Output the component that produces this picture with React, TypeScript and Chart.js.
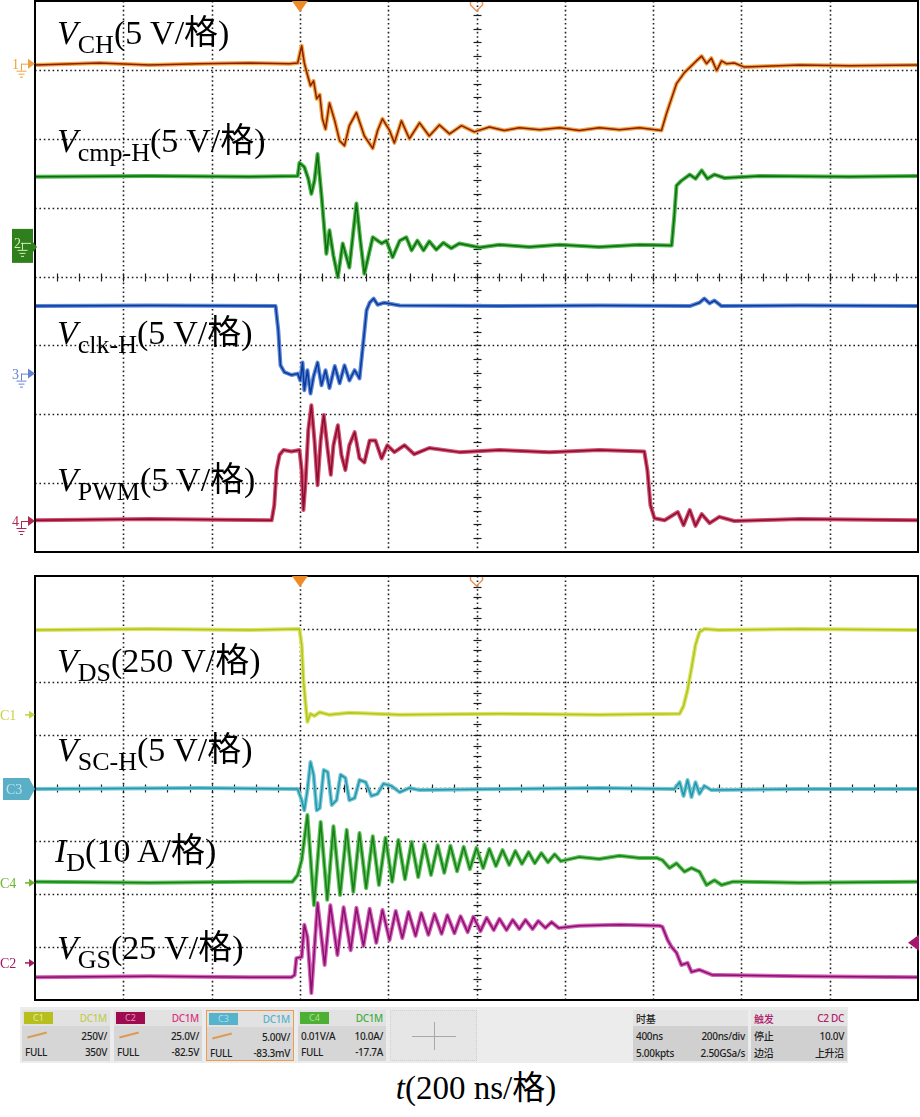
import React, { useEffect, useRef } from "react";
import { Chart, registerables } from "chart.js";

Chart.register(...registerables);

// ---------------- axes ----------------
const T_MIN = 0;
const T_MAX = 2000; // ns, 200 ns/div
const NS_PER_DIV = 200;
const DIVS_X = 10;
const DIVS_Y = 8;
const TRIGGER_T = 600;
const DELAY_T = 1000;

// ---------------- top panel traces (values in divisions, 0 = bottom) ----------------
const vchT = [0,146,259,373,486,576,595,604,610,617,624,631,638,645,651,658,667,679,690,701,712,728,746,765,776,787,803,814,830,848,871,893,916,939,966,995,1029,1063,1097,1143,1188,1233,1278,1324,1369,1419,1430,1442,1453,1471,1487,1498,1510,1521,1532,1544,1555,1566,1584,1607,1732,1845,2000];
const vchV = [7.07,7.10,7.07,7.09,7.10,7.09,7.10,7.35,7.10,6.93,6.77,6.84,6.58,6.64,6.29,6.14,6.52,6.26,5.97,5.90,6.19,6.38,6.04,5.86,6.12,6.29,6.12,5.94,6.26,6.00,6.23,6.04,6.20,6.07,6.19,6.10,6.17,6.12,6.16,6.13,6.16,6.12,6.16,6.13,6.16,6.12,6.36,6.59,6.80,6.96,7.06,7.13,7.20,7.09,7.17,6.99,7.13,7.09,7.10,7.04,7.07,7.06,7.07];

const cmpT = [0,259,486,595,599,610,619,626,633,640,649,660,667,676,686,697,712,728,737,746,765,785,796,810,826,841,853,866,880,893,909,925,943,961,1007,1052,1120,1188,1278,1369,1442,1448,1453,1464,1483,1496,1510,1523,1539,1562,1641,1845,2000];
const cmpV = [5.45,5.46,5.45,5.46,5.65,5.59,5.42,5.20,5.39,5.78,5.17,4.33,4.67,4.30,3.99,4.48,4.13,5.06,4.52,4.04,4.57,4.48,4.52,4.28,4.52,4.57,4.38,4.52,4.38,4.51,4.39,4.49,4.41,4.48,4.42,4.46,4.43,4.46,4.43,4.46,4.45,4.88,5.32,5.39,5.48,5.42,5.54,5.42,5.48,5.43,5.46,5.45,5.46];

const clkT = [0,259,545,551,556,565,581,595,601,606,610,617,624,631,640,649,658,667,679,690,701,712,724,735,744,751,758,767,776,791,826,1052,1278,1483,1505,1516,1528,1539,1555,1732,2000];
const clkV = [3.57,3.58,3.57,3.22,2.71,2.61,2.57,2.59,2.49,2.75,2.35,2.64,2.30,2.55,2.75,2.42,2.64,2.38,2.70,2.45,2.71,2.49,2.64,2.52,3.07,3.51,3.62,3.68,3.59,3.62,3.58,3.57,3.58,3.57,3.62,3.68,3.61,3.65,3.57,3.58,3.57];

const pwmT = [0,259,536,542,547,554,563,581,599,604,608,613,619,626,633,640,647,654,663,670,676,686,694,703,712,724,735,746,758,771,785,798,814,837,859,893,961,1052,1165,1278,1380,1387,1394,1403,1426,1456,1469,1483,1496,1510,1528,1550,1584,1732,2000];
const pwmV = [0.46,0.48,0.46,0.68,1.19,1.41,1.48,1.46,1.48,1.19,0.61,1.04,1.77,2.13,1.62,0.97,1.62,1.99,1.48,1.12,1.55,1.84,1.41,1.19,1.55,1.74,1.36,1.30,1.62,1.62,1.36,1.55,1.45,1.55,1.42,1.51,1.45,1.48,1.45,1.48,1.46,1.19,0.68,0.49,0.46,0.58,0.39,0.61,0.38,0.55,0.42,0.51,0.45,0.48,0.46];

// ---------------- bottom panel traces ----------------
const vdsT = [0,259,486,599,604,608,613,617,624,633,645,667,712,826,1052,1278,1460,1469,1478,1487,1496,1505,1516,1550,1732,2000];
const vdsV = [6.98,7.00,6.98,7.00,6.70,6.04,5.57,5.25,5.40,5.36,5.43,5.38,5.42,5.38,5.40,5.38,5.40,5.55,5.85,6.26,6.70,6.94,7.00,6.98,7.00,6.98];

const vscT = [0,373,595,604,610,617,624,631,638,645,654,663,672,683,692,703,712,724,735,749,762,776,789,807,826,848,871,1052,1278,1448,1460,1469,1478,1487,1496,1505,1516,1532,1732,2000];
const vscV = [3.98,4.00,3.98,3.77,3.58,3.96,4.49,4.25,3.58,3.62,4.34,4.30,3.68,3.77,4.25,4.19,3.77,3.81,4.15,4.11,3.85,3.89,4.08,4.04,3.92,4.00,3.96,3.98,4.00,3.98,4.11,3.85,4.15,3.83,4.11,3.89,4.04,3.96,3.98,3.98];

const idT = [0,259,486,583,595,604,610,617,632,647,662,676,691,706,721,735,750,765,779,794,809,823,838,853,868,882,897,912,927,941,956,971,985,1000,1015,1029,1044,1059,1074,1088,1103,1118,1132,1147,1162,1177,1191,1233,1278,1324,1369,1408,1421,1437,1453,1471,1487,1505,1521,1539,1555,1580,1603,1732,2000];
const idV = [2.23,2.21,2.23,2.23,2.36,2.64,3.02,3.49,1.79,3.36,1.89,3.28,1.98,3.21,2.04,3.15,2.11,3.09,2.17,3.06,2.23,3.02,2.28,2.98,2.32,2.94,2.36,2.92,2.40,2.91,2.43,2.89,2.47,2.87,2.49,2.85,2.53,2.83,2.55,2.81,2.57,2.79,2.58,2.77,2.60,2.75,2.62,2.70,2.66,2.72,2.68,2.68,2.64,2.49,2.58,2.42,2.49,2.42,2.17,2.26,2.17,2.23,2.23,2.21,2.23];

const vgsT = [0,259,486,581,588,592,604,610,617,626,640,656,669,685,699,715,728,744,758,773,787,803,817,832,846,862,875,891,905,921,934,950,964,980,993,1009,1023,1039,1052,1068,1082,1097,1111,1127,1140,1156,1170,1186,1233,1324,1415,1421,1433,1442,1453,1464,1478,1487,1505,1535,1550,1732,2000];
const vgsV = [0.43,0.45,0.43,0.43,0.47,0.79,0.81,1.42,1.19,0.13,1.83,0.66,1.79,0.85,1.75,0.94,1.74,1.02,1.72,1.08,1.70,1.13,1.68,1.17,1.66,1.21,1.64,1.23,1.62,1.25,1.60,1.26,1.58,1.28,1.57,1.30,1.55,1.32,1.53,1.32,1.51,1.34,1.51,1.34,1.49,1.36,1.47,1.36,1.40,1.42,1.40,1.38,1.13,1.00,0.89,0.66,0.70,0.53,0.57,0.47,0.47,0.45,0.43];

// channel reference levels (divisions)
const TOP_REFS = [7.09, 4.43, 2.59, 0.45];
const BOTTOM_REFS = { C1: 5.38, C3: 3.98, C4: 2.21, C2: 0.70, trig: 1.08 };

type Trace = { t: number[]; v: number[]; core: string; halo: string };

const topTraces: Trace[] = [
  { t: vchT, v: vchV, core: "#8a1e08", halo: "#f2a640" },
  { t: cmpT, v: cmpV, core: "#0f6b12", halo: "#4fb84a" },
  { t: clkT, v: clkV, core: "#0c3a9a", halo: "#5c88d8" },
  { t: pwmT, v: pwmV, core: "#8c0b30", halo: "#d0506f" },
];
const bottomTraces: Trace[] = [
  { t: vdsT, v: vdsV, core: "#b4c418", halo: "#d8e46c" },
  { t: vscT, v: vscV, core: "#2597aa", halo: "#76c8d6" },
  { t: idT, v: idV, core: "#1a7d1a", halo: "#5ec25a" },
  { t: vgsT, v: vgsV, core: "#8a1070", halo: "#d562b6" },
];

function makeDatasets(traces: Trace[]) {
  const ds: any[] = [];
  traces.forEach((tr) => {
    const data = tr.t.map((x, i) => ({ x, y: tr.v[i] }));
    ds.push({ data, borderColor: tr.core, borderWidth: 1.5, order: 0, pointRadius: 0, tension: 0, borderJoinStyle: "round" });
    ds.push({ data, borderColor: tr.halo, borderWidth: 4, order: 1, pointRadius: 0, tension: 0, borderJoinStyle: "round" });
  });
  return ds;
}

function seg(ctx: CanvasRenderingContext2D, x1: number, y1: number, x2: number, y2: number) {
  ctx.beginPath();
  ctx.moveTo(x1, y1);
  ctx.lineTo(x2, y2);
  ctx.stroke();
}

function scopePlugin(drawMarkers: (ctx: CanvasRenderingContext2D, chart: any) => void) {
  return {
    id: "scope",
    beforeDatasetsDraw(chart: any) {
      const { ctx, chartArea: a } = chart;
      const x = chart.scales.x;
      const y = chart.scales.y;
      ctx.save();
      ctx.strokeStyle = "#1e1e1e";
      ctx.lineWidth = 1.6;
      ctx.setLineDash([1.6, 2.8]);
      for (let i = 1; i < DIVS_X; i++) {
        const px = Math.round(x.getPixelForValue(T_MIN + i * NS_PER_DIV)) + 0.5;
        seg(ctx, px, a.top, px, a.bottom);
      }
      for (let j = 1; j < DIVS_Y; j++) {
        const py = Math.round(y.getPixelForValue(j)) + 0.5;
        seg(ctx, a.left, py, a.right, py);
      }
      ctx.setLineDash([]);
      ctx.lineWidth = 1.2;
      const cx = Math.round(x.getPixelForValue((T_MIN + T_MAX) / 2)) + 0.5;
      const cy = Math.round(y.getPixelForValue(DIVS_Y / 2)) + 0.5;
      for (let k = 1; k < DIVS_X * 4; k++) {
        const px = Math.round(x.getPixelForValue(T_MIN + (k * NS_PER_DIV) / 4)) + 0.5;
        seg(ctx, px, cy - 4, px, cy + 4);
      }
      for (let k = 1; k < DIVS_Y * 5; k++) {
        const py = Math.round(y.getPixelForValue(k / 5)) + 0.5;
        seg(ctx, cx - 4, py, cx + 4, py);
      }
      ctx.restore();
    },
    afterDraw(chart: any) {
      const { ctx, chartArea: a } = chart;
      const x = chart.scales.x;
      ctx.save();
      ctx.strokeStyle = "#000";
      ctx.lineWidth = 2;
      ctx.strokeRect(a.left, a.top, a.width, a.height);
      // trigger position marker
      const tx = x.getPixelForValue(TRIGGER_T);
      ctx.fillStyle = "#f08a24";
      ctx.beginPath();
      ctx.moveTo(tx - 8, a.top);
      ctx.lineTo(tx + 8, a.top);
      ctx.lineTo(tx, a.top + 11);
      ctx.closePath();
      ctx.fill();
      // delay marker (hollow)
      const dx = x.getPixelForValue(DELAY_T);
      ctx.strokeStyle = "#e8955a";
      ctx.lineWidth = 1.5;
      ctx.beginPath();
      ctx.moveTo(dx - 6, a.top + 1);
      ctx.lineTo(dx - 6, a.top + 4);
      ctx.lineTo(dx, a.top + 10);
      ctx.lineTo(dx + 6, a.top + 4);
      ctx.lineTo(dx + 6, a.top + 1);
      ctx.stroke();
      drawMarkers(ctx, chart);
      ctx.restore();
    },
  };
}

function groundSym(ctx: CanvasRenderingContext2D, gx: number, gy: number) {
  seg(ctx, gx - 5, gy + 0.5, gx + 5, gy + 0.5);
  seg(ctx, gx - 3, gy + 3.5, gx + 3, gy + 3.5);
  seg(ctx, gx - 1.5, gy + 6.5, gx + 1.5, gy + 6.5);
}

function chanArrow(ctx: CanvasRenderingContext2D, label: string, py: number, color: string) {
  ctx.fillStyle = color;
  ctx.strokeStyle = color;
  ctx.font = '14px "Liberation Serif", serif';
  ctx.fillText(label, 12, py + 5);
  ctx.lineWidth = 1;
  seg(ctx, 21, py + 0.5, 30, py + 0.5);
  seg(ctx, 21.5, py, 21.5, py + 7);
  groundSym(ctx, 21.5, py + 7);
  ctx.beginPath();
  ctx.moveTo(28, py - 5);
  ctx.lineTo(35, py);
  ctx.lineTo(28, py + 5);
  ctx.closePath();
  ctx.fill();
}

function topMarkers(ctx: CanvasRenderingContext2D, chart: any) {
  const y = chart.scales.y;
  chanArrow(ctx, "1", y.getPixelForValue(TOP_REFS[0]), "#f0a040");
  // channel 2 (selected box)
  const p2 = y.getPixelForValue(TOP_REFS[1]);
  ctx.fillStyle = "#2f7f1c";
  ctx.fillRect(12, p2 - 18, 21, 34);
  ctx.beginPath();
  ctx.moveTo(33, p2 - 5);
  ctx.lineTo(37, p2);
  ctx.lineTo(33, p2 + 5);
  ctx.closePath();
  ctx.fill();
  ctx.fillStyle = "#d4ecb8";
  ctx.strokeStyle = "#d4ecb8";
  ctx.font = '14px "Liberation Serif", serif';
  ctx.fillText("2", 14, p2 + 1);
  ctx.lineWidth = 1;
  seg(ctx, 21, p2 - 3.5, 31, p2 - 3.5);
  seg(ctx, 22.5, p2 - 4, 22.5, p2 + 3);
  groundSym(ctx, 22.5, p2 + 3);
  chanArrow(ctx, "3", y.getPixelForValue(TOP_REFS[2]), "#6483d0");
  chanArrow(ctx, "4", y.getPixelForValue(TOP_REFS[3]), "#b02a50");
}

function textArrow(ctx: CanvasRenderingContext2D, label: string, py: number, color: string) {
  ctx.fillStyle = color;
  ctx.strokeStyle = color;
  ctx.font = '14px "Liberation Serif", serif';
  ctx.fillText(label, 0, py + 5);
  ctx.lineWidth = 1.5;
  seg(ctx, 25, py, 31, py);
  ctx.beginPath();
  ctx.moveTo(29, py - 4);
  ctx.lineTo(35, py);
  ctx.lineTo(29, py + 4);
  ctx.closePath();
  ctx.fill();
}

function bottomMarkers(ctx: CanvasRenderingContext2D, chart: any) {
  const y = chart.scales.y;
  const a = chart.chartArea;
  textArrow(ctx, "C1", y.getPixelForValue(BOTTOM_REFS.C1), "#c4d344");
  const p3 = y.getPixelForValue(BOTTOM_REFS.C3);
  ctx.fillStyle = "#5aaec6";
  ctx.beginPath();
  ctx.moveTo(3, p3 - 11);
  ctx.lineTo(29, p3 - 11);
  ctx.lineTo(35, p3);
  ctx.lineTo(29, p3 + 11);
  ctx.lineTo(3, p3 + 11);
  ctx.closePath();
  ctx.fill();
  ctx.fillStyle = "#b8e2ee";
  ctx.font = '14px "Liberation Serif", serif';
  ctx.fillText("C3", 6, p3 + 5);
  textArrow(ctx, "C4", y.getPixelForValue(BOTTOM_REFS.C4), "#6cb42e");
  textArrow(ctx, "C2", y.getPixelForValue(BOTTOM_REFS.C2), "#a01a5e");
  const pt = y.getPixelForValue(BOTTOM_REFS.trig);
  ctx.fillStyle = "#a3186c";
  ctx.beginPath();
  ctx.moveTo(a.right + 1, pt - 8);
  ctx.lineTo(a.right - 10, pt);
  ctx.lineTo(a.right + 1, pt + 8);
  ctx.closePath();
  ctx.fill();
}

function ScopePanel(props: {
  top: number;
  height: number;
  padTop: number;
  padBottom: number;
  traces: Trace[];
  markers: (ctx: CanvasRenderingContext2D, chart: any) => void;
}) {
  const ref = useRef<HTMLCanvasElement>(null);
  useEffect(() => {
    const chart = new Chart(ref.current as HTMLCanvasElement, {
      type: "line",
      data: { datasets: makeDatasets(props.traces) },
      options: {
        animation: false,
        responsive: false,
        devicePixelRatio: 1,
        layout: { padding: { left: 35, right: 2, top: props.padTop, bottom: props.padBottom } },
        scales: {
          x: { type: "linear", min: T_MIN, max: T_MAX, display: false },
          y: { type: "linear", min: 0, max: DIVS_Y, display: false },
        },
        plugins: { legend: { display: false }, tooltip: { enabled: false } },
        elements: { point: { radius: 0 }, line: { tension: 0 } },
      } as any,
      plugins: [scopePlugin(props.markers)],
    });
    return () => chart.destroy();
  }, []);
  return (
    <canvas
      ref={ref}
      width={920}
      height={props.height}
      style={{ position: "absolute", left: 0, top: props.top, width: 920, height: props.height }}
    />
  );
}

const SERIF = '"Liberation Serif", "Times New Roman", "Noto Sans CJK SC", serif';

function TraceLabel(props: { left: number; baseline: number; main: string; sub: string; unit: string }) {
  return (
    <div
      style={{
        position: "absolute",
        left: props.left,
        top: props.baseline - 29,
        fontFamily: SERIF,
        fontSize: 34,
        lineHeight: "34px",
        whiteSpace: "nowrap",
        color: "#000",
      }}
    >
      <span style={{ fontStyle: "italic" }}>{props.main}</span>
      <span style={{ fontSize: 26, position: "relative", top: 9 }}>{props.sub}</span>
      <span>{props.unit}</span>
    </div>
  );
}

const labels = [
  { left: 57, baseline: 45, main: "V", sub: "CH", unit: "(5 V/格)" },
  { left: 57, baseline: 153, main: "V", sub: "cmp-H", unit: "(5 V/格)" },
  { left: 57, baseline: 345, main: "V", sub: "clk-H", unit: "(5 V/格)" },
  { left: 57, baseline: 492, main: "V", sub: "PWM", unit: "(5 V/格)" },
  { left: 57, baseline: 673, main: "V", sub: "DS", unit: "(250 V/格)" },
  { left: 57, baseline: 762, main: "V", sub: "SC-H", unit: "(5 V/格)" },
  { left: 55, baseline: 863, main: "I", sub: "D", unit: "(10 A/格)" },
  { left: 57, baseline: 960, main: "V", sub: "GS", unit: "(25 V/格)" },
];

const chanInfo = [
  { tag: "C1", tagBg: "#b6bf1e", tagFg: "#e6ed9e", cpl: "DC1M", cplColor: "#c3cd52", left2: "", right2: "250V/", right3: "350V", icon: true, sel: false },
  { tag: "C2", tagBg: "#9e0b4f", tagFg: "#e690b8", cpl: "DC1M", cplColor: "#d9327f", left2: "", right2: "25.0V/", right3: "-82.5V", icon: true, sel: false },
  { tag: "C3", tagBg: "#55b3cc", tagFg: "#aadeec", cpl: "DC1M", cplColor: "#55b3cc", left2: "", right2: "5.00V/", right3: "-83.3mV", icon: true, sel: true },
  { tag: "C4", tagBg: "#4db032", tagFg: "#aae292", cpl: "DC1M", cplColor: "#3fae3a", left2: "0.01V/A", right2: "10.0A/", right3: "-17.7A", icon: false, sel: false },
];

const SANS = '"Noto Sans", "Open Sans", "Noto Sans CJK SC", sans-serif';
const rowStyle: React.CSSProperties = {
  position: "absolute",
  left: 3,
  right: 3,
  height: 17,
  display: "flex",
  justifyContent: "space-between",
  alignItems: "center",
  fontFamily: SANS,
  fontSize: 10,
  fontWeight: 500,
  color: "#1e1e1e",
  letterSpacing: -0.3,
};

function ChanBox(props: { info: (typeof chanInfo)[number]; left: number }) {
  const c = props.info;
  return (
    <div
      style={{
        position: "absolute",
        left: props.left,
        top: 1010,
        width: 88,
        height: 51,
        background: "#d6d6d6",
        boxSizing: "border-box",
        border: c.sel ? "1.5px solid #ef9a4e" : "none",
      }}
    >
      <div style={{ position: "absolute", left: 0, right: 0, top: 0, height: 16, background: "#e2e2e2" }} />
      <div
        style={{
          position: "absolute",
          left: 2,
          top: 2,
          width: 29,
          height: 12,
          background: c.tagBg,
          color: c.tagFg,
          fontFamily: SANS,
          fontSize: 9,
          lineHeight: "12px",
          textAlign: "center",
        }}
      >
        {c.tag}
      </div>
      <div style={{ ...rowStyle, top: 0, height: 16, justifyContent: "flex-end", color: c.cplColor }}>{c.cpl}</div>
      {c.icon && (
        <div
          style={{
            position: "absolute",
            left: 5,
            top: 24,
            width: 20,
            height: 1.5,
            background: "#dd9a55",
            transform: "rotate(-14deg)",
          }}
        />
      )}
      <div style={{ ...rowStyle, top: 17 }}>
        <span>{c.left2}</span>
        <span>{c.right2}</span>
      </div>
      <div style={{ ...rowStyle, top: 33 }}>
        <span>FULL</span>
        <span>{c.right3}</span>
      </div>
    </div>
  );
}

function InfoBox(props: { left: number; width: number; rows: [string, string][]; headColor: string }) {
  return (
    <div style={{ position: "absolute", left: props.left, top: 1010, width: props.width, height: 51, background: "#d0d0d0" }}>
      <div style={{ position: "absolute", left: 0, right: 0, top: 0, height: 16, background: "#e4e4e4" }} />
      {props.rows.map((r, i) => (
        <div key={i} style={{ ...rowStyle, top: i === 0 ? 0 : 17 * i, height: i === 0 ? 16 : 17, color: i === 0 ? props.headColor : "#1e1e1e" }}>
          <span>{r[0]}</span>
          <span>{r[1]}</span>
        </div>
      ))}
    </div>
  );
}

const timeRows: [string, string][] = [
  ["时基", ""],
  ["400ns", "200ns/div"],
  ["5.00kpts", "2.50GSa/s"],
];
const trigRows: [string, string][] = [
  ["触发", "C2 DC"],
  ["停止", "10.0V"],
  ["边沿", "上升沿"],
];

function StatusBar() {
  return (
    <>
      <div style={{ position: "absolute", left: 20, top: 1007, width: 828, height: 56, background: "#ececec" }} />
      {chanInfo.map((c, i) => (
        <ChanBox key={c.tag} info={c} left={22 + i * 92} />
      ))}
      <div style={{ position: "absolute", left: 390, top: 1010, width: 87, height: 51, background: "#e6e6e6", border: "1px dotted #cfcfcf", boxSizing: "border-box" }}>
        <div style={{ position: "absolute", left: 21, top: 25, width: 44, height: 1, background: "#a8a8a8" }} />
        <div style={{ position: "absolute", left: 43, top: 11, width: 1, height: 28, background: "#a8a8a8" }} />
      </div>
      <InfoBox left={633} width={115} rows={timeRows} headColor="#1e1e1e" />
      <InfoBox left={751} width={96} rows={trigRows} headColor="#b0206a" />
    </>
  );
}

export default function App() {
  return (
    <div style={{ position: "absolute", left: 0, top: 0, width: 920, height: 1117, background: "#fff", overflow: "hidden" }}>
      <ScopePanel top={0} height={556} padTop={1} padBottom={4} traces={topTraces} markers={topMarkers} />
      <ScopePanel top={556} height={450} padTop={20} padBottom={6} traces={bottomTraces} markers={bottomMarkers} />
      {labels.map((l, i) => (
        <TraceLabel key={i} {...l} />
      ))}
      <StatusBar />
      <div
        style={{
          position: "absolute",
          left: 0,
          width: 952,
          top: 1100 - 28,
          textAlign: "center",
          fontFamily: SERIF,
          fontSize: 33,
          lineHeight: "33px",
          whiteSpace: "nowrap",
        }}
      >
        <span style={{ fontStyle: "italic" }}>t</span>(200 ns/格)
      </div>
    </div>
  );
}
